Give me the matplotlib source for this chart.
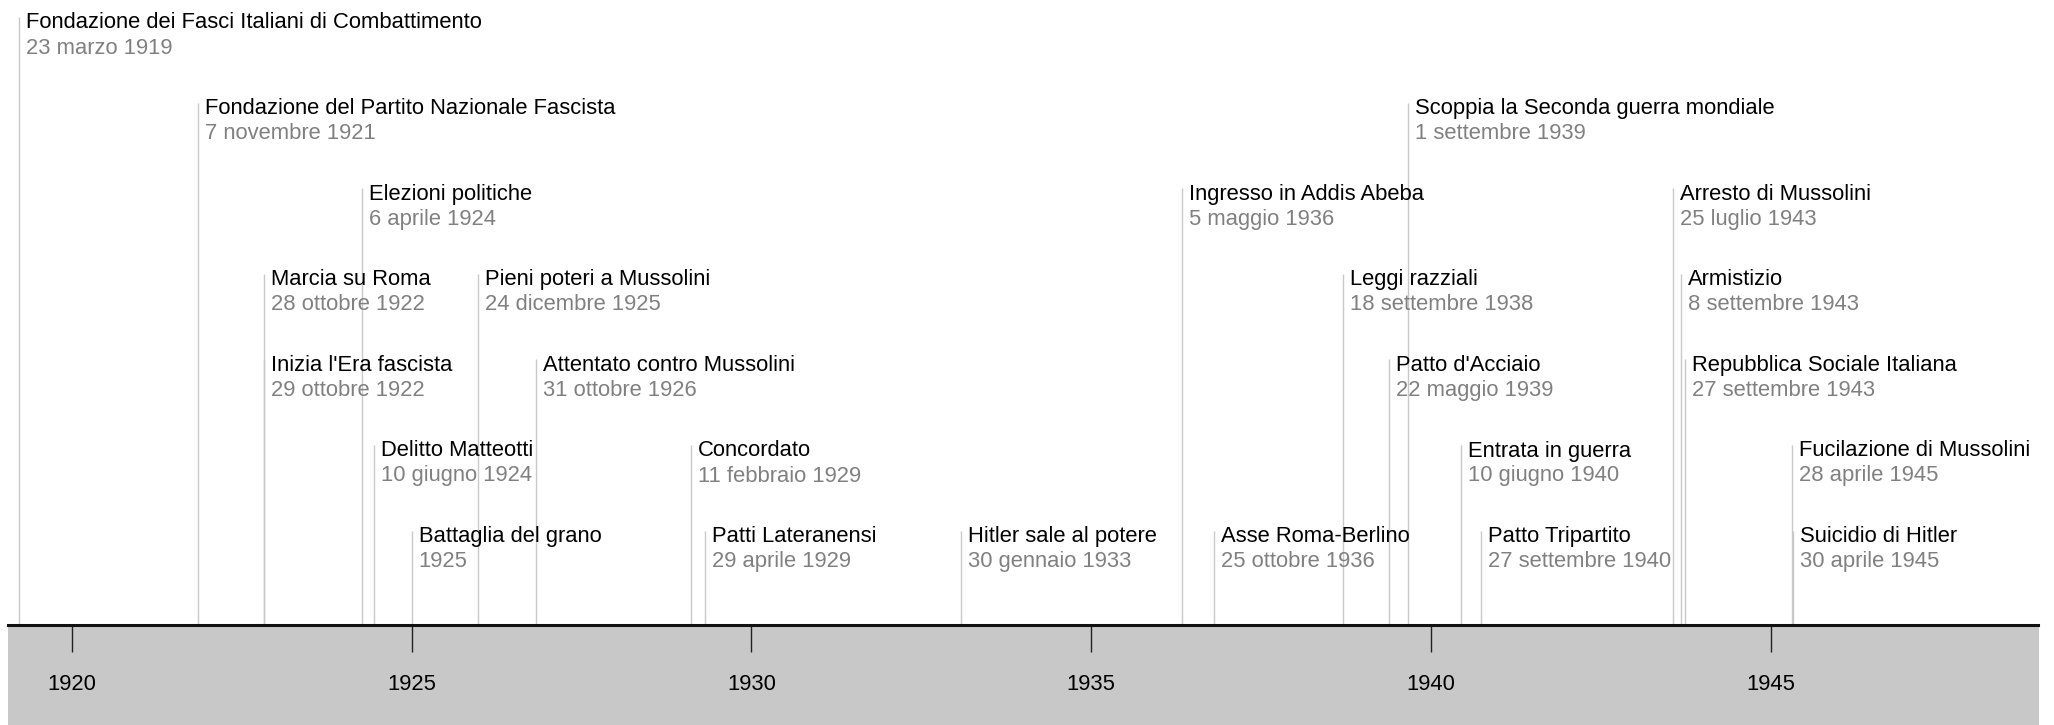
import pandas as pd
import matplotlib.pyplot as plt
import matplotlib.dates as mdates
from matplotlib.patches import Rectangle

events = [
    "Fondazione dei Fasci Italiani di Combattimento",
    "Fondazione del Partito Nazionale Fascista",
    "Marcia su Roma",
    "Inizia l'Era fascista",
    "Elezioni politiche",
    "Delitto Matteotti",
    "Battaglia del grano",
    "Pieni poteri a Mussolini",
    "Attentato contro Mussolini",
    "Concordato",
    "Patti Lateranensi",
    "Hitler sale al potere",
    "Ingresso in Addis Abeba",
    "Asse Roma-Berlino",
    "Leggi razziali",
    "Patto d'Acciaio",
    "Scoppia la Seconda guerra mondiale",
    "Entrata in guerra",
    "Patto Tripartito",
    "Arresto di Mussolini",
    "Armistizio",
    "Repubblica Sociale Italiana",
    "Fucilazione di Mussolini",
    "Suicidio di Hitler",
]
dates = [
    "1919-03-23", "1921-11-07", "1922-10-28", "1922-10-29", "1924-04-06",
    "1924-06-10", "1925-01-01", "1925-12-24", "1926-10-31", "1929-02-11",
    "1929-04-29", "1933-01-30", "1936-05-05", "1936-10-25", "1938-09-18",
    "1939-05-22", "1939-09-01", "1940-06-10", "1940-09-27", "1943-07-25",
    "1943-09-08", "1943-09-27", "1945-04-28", "1945-04-30",
]
date_labels = [
    "23 marzo 1919", "7 novembre 1921", "28 ottobre 1922", "29 ottobre 1922",
    "6 aprile 1924", "10 giugno 1924", "1925", "24 dicembre 1925",
    "31 ottobre 1926", "11 febbraio 1929", "29 aprile 1929", "30 gennaio 1933",
    "5 maggio 1936", "25 ottobre 1936", "18 settembre 1938", "22 maggio 1939",
    "1 settembre 1939", "10 giugno 1940", "27 settembre 1940", "25 luglio 1943",
    "8 settembre 1943", "27 settembre 1943", "28 aprile 1945", "30 aprile 1945",
]
# label row, 0 = top
rows = [0, 1, 3, 4, 2, 5, 6, 3, 4, 5, 6, 6, 2, 6, 3, 4, 1, 5, 6, 2, 3, 4, 5, 6]
tick_years = [1920, 1925, 1930, 1935, 1940, 1945]

df = pd.DataFrame({"event": events, "date": pd.to_datetime(dates),
                   "label": date_labels, "row": rows})

FONT = "Liberation Sans"
FS = 15.8
W, H = 2054, 725
axis_y = 625          # pixel row of the time axis
row_step = 85.6
top0 = 17

fig = plt.figure(figsize=(W / 100, H / 100), dpi=100)
fig.patch.set_facecolor("white")

# gray band under the axis
x0 = 8 / W
x1 = 2039 / W
band = Rectangle((x0, 0), x1 - x0, (H - axis_y) / H,
                 transform=fig.transFigure, facecolor="#c8c8c8",
                 edgecolor="none", zorder=-5)
fig.patches.append(band)

ax = fig.add_axes([0, (H - axis_y) / H, 1, axis_y / H])
ax.set_zorder(2)
ax.set_facecolor("none")
ax.set_xlim(pd.Timestamp("1918-12-10"), pd.Timestamp("1949-03-05"))
ax.set_ylim(axis_y, 0)

for s in ["top", "left", "right"]:
    ax.spines[s].set_visible(False)
ax.spines["bottom"].set_linewidth(2.2)
ax.spines["bottom"].set_color("#111111")
ax.spines["bottom"].set_bounds(mdates.date2num(pd.Timestamp("1919-01-22")),
                               mdates.date2num(pd.Timestamp("1948-12-10")))
ax.set_yticks([])
ax.set_xticks([pd.Timestamp(f"{y}-01-01") for y in tick_years])
ax.set_xticklabels([str(y) for y in tick_years], fontsize=FS, family=FONT)
ax.tick_params(axis="x", direction="out", length=19.5, width=1,
               color="#222222", pad=16, labelcolor="black")

for _, r in df.iterrows():
    top = top0 + r["row"] * row_step
    ax.vlines(r["date"], top, axis_y, color="#c8c8c8", lw=1, zorder=1)
    ax.annotate(r["event"], (r["date"], top + 11.5), xytext=(5, 0),
                textcoords="offset points", fontsize=FS, family=FONT,
                color="black", va="baseline", ha="left", zorder=3)
    ax.annotate(r["label"], (r["date"], top + 36.5), xytext=(5, 0),
                textcoords="offset points", fontsize=FS, family=FONT,
                color="#808080", va="baseline", ha="left", zorder=3)

fig.savefig("out.png", dpi=100)
